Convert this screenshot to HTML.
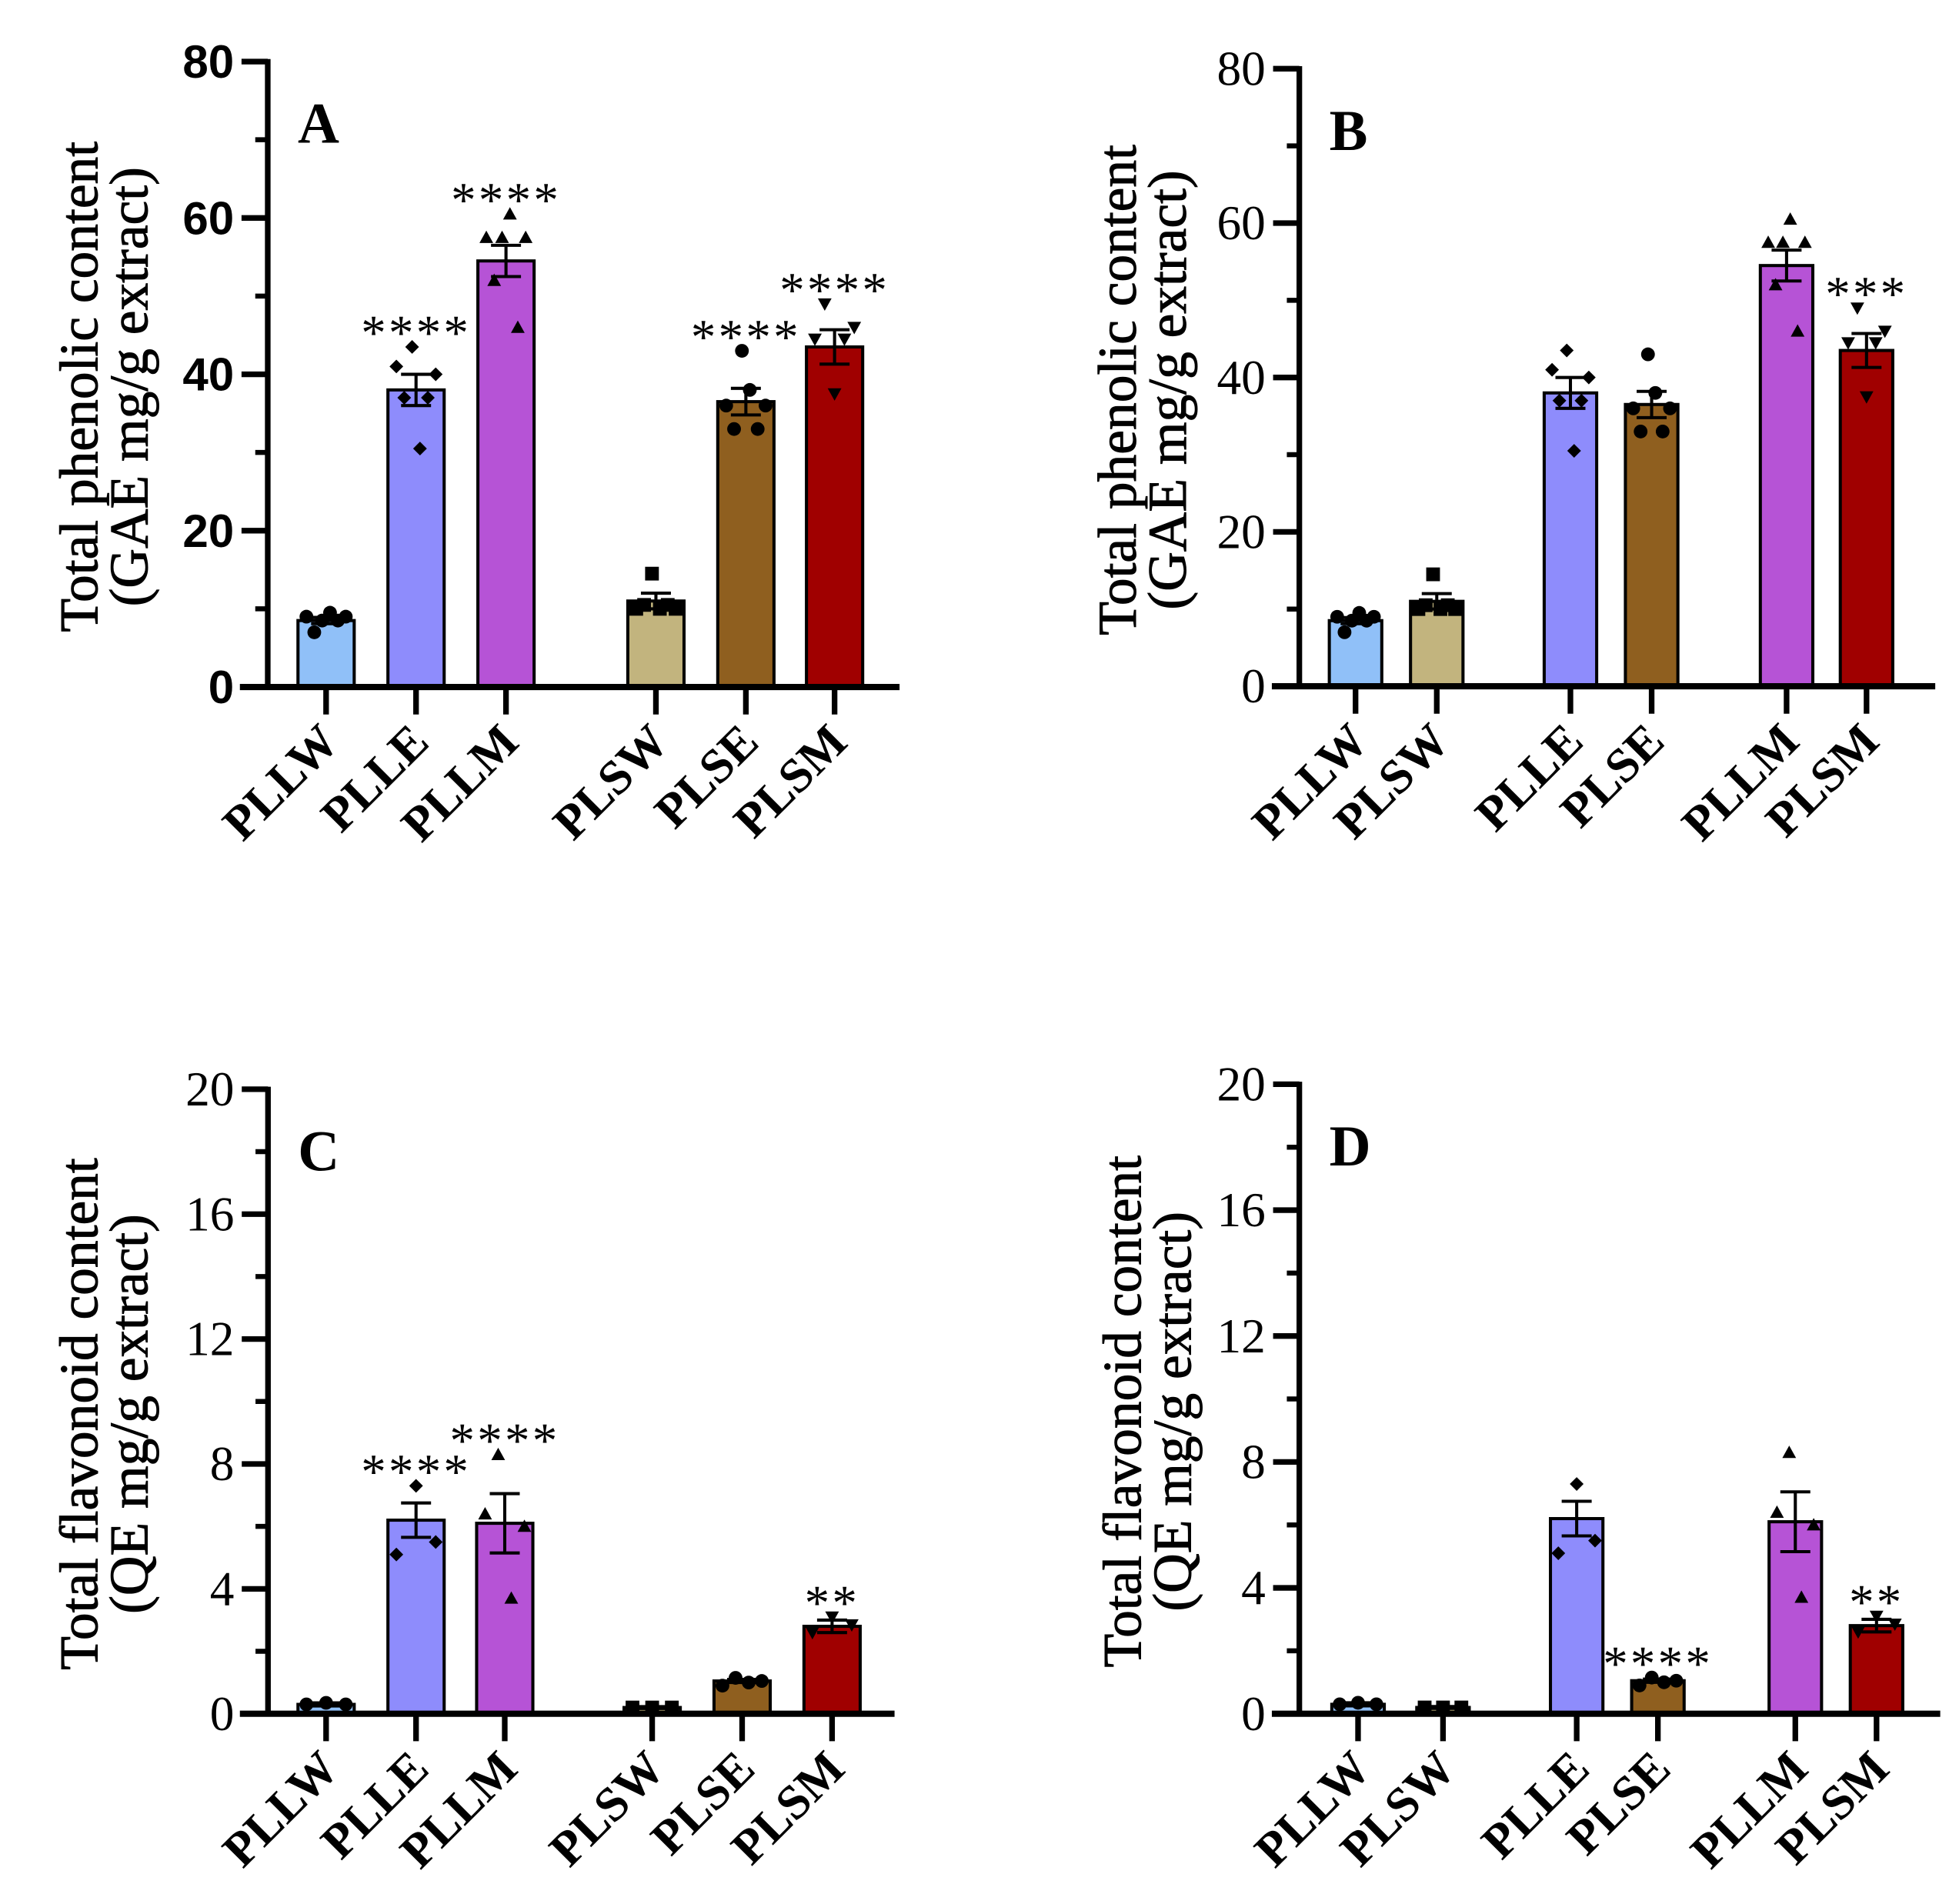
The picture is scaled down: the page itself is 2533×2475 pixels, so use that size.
<!DOCTYPE html>
<html><head><meta charset="utf-8"><style>
html,body{margin:0;padding:0;background:#fff;}
svg{display:block;}
</style></head><body>
<svg id="fig" xmlns="http://www.w3.org/2000/svg" width="2533" height="2475" viewBox="0 0 1560 1524.3">
<rect x="0" y="0" width="1560" height="1524.3" fill="#fff"/>
</svg>
<script>
// ---- data ----
const groupsAC = ["PLLW","PLLE","PLLM","PLSW","PLSE","PLSM"];
const groupsBD = ["PLLW","PLSW","PLLE","PLSE","PLLM","PLSM"];
const colors = {PLLW:"#90c0f8",PLLE:"#8e8cfc",PLLM:"#b653d6",PLSW:"#c2b47e",PLSE:"#8f5f1f",PLSM:"#a00000"};
const markers = {PLLW:"circle",PLLE:"diamond",PLLM:"tri",PLSW:"square",PLSE:"circle",PLSM:"tridown"};
// phenolic (GAE mg/g)
const phenMean = {PLLW:8.5,PLLE:38,PLLM:54.5,PLSW:11,PLSE:36.5,PLSM:43.5};
const phenSem = {PLLW:0.4,PLLE:2,PLLM:2,PLSW:1,PLSE:1.7,PLSM:2.2};
const phenPts = {PLLW:[9,7,8.5,9.5,8.5,9],PLLE:[41,37,43.5,30.5,37,40],PLLM:[57.5,52,57.5,60.5,46,57.5],PLSW:[10,10.5,14.5,10,10.5,10],PLSE:[36,33,43,38,33,36],PLSM:[44.5,49,37.5,44.5,46]};
// flavonoid (QE mg/g)
const flavMean = {PLLW:0.3,PLLE:6.2,PLLM:6.1,PLSW:0.2,PLSE:1.05,PLSM:2.8};
const flavSem = {PLLW:0.05,PLLE:0.55,PLLM:0.95,PLSW:0.03,PLSE:0.05,PLSM:0.2};
const flavPts = {PLLW:[0.3,0.35,0.3],PLLE:[5.1,7.3,5.5],PLLM:[6.4,8.3,3.7,6.0],PLSW:[0.2,0.2,0.2],PLSE:[0.9,1.15,1.0,1.05],PLSM:[2.6,3.1,2.85]};
const starsA = {PLLE:"****",PLLM:"****",PLSE:"****",PLSM:"****"};
const starsB = {PLSM:"***"};
const starsC = {PLLE:"****",PLLM:"****",PLSM:"**"};
const starsD = {PLSE:"****",PLSM:"**"};
const phenTicks = [0,20,40,60,80];
const flavTicks = [0,4,8,12,16,20];

const NS="http://www.w3.org/2000/svg";
const svg=document.getElementById('fig');
function mk(tag,attrs,parent){const e=document.createElementNS(NS,tag);for(const k in attrs)e.setAttribute(k,attrs[k]);(parent||svg).appendChild(e);return e;}

const panels=[
 {id:"a",letter:"A",ax:214.3,top:49.3,zero:550,xs:192,xe:720,bw:45,centers:[261,333,405,525,597,668],groups:groupsAC,mean:phenMean,sem:phenSem,pts:phenPts,ticks:phenTicks,max:80,minor:10,stars:starsA,sans:true,t1:"Total phenolic content",t2:"(GAE mg/g extract)",tx:[64,104]},
 {id:"b",letter:"B",ax:1040,top:55,zero:549.4,xs:1018,xe:1549,bw:42,centers:[1085,1150,1257,1322,1430,1494],groups:groupsBD,mean:phenMean,sem:phenSem,pts:phenPts,ticks:phenTicks,max:80,minor:10,stars:starsB,sans:false,t1:"Total phenolic content",t2:"(GAE mg/g extract)",tx:[895,935]},
 {id:"c",letter:"C",ax:214.5,top:872,zero:1372,xs:192,xe:716,bw:45,centers:[261,333,404,522,594,666],groups:groupsAC,mean:flavMean,sem:flavSem,pts:flavPts,ticks:flavTicks,max:20,minor:2,stars:starsC,sans:false,t1:"Total flavonoid content",t2:"(QE mg/g extract)",tx:[64,104]},
 {id:"d",letter:"D",ax:1040,top:868,zero:1372,xs:1018,xe:1553,bw:42,centers:[1087,1155,1262,1327,1437,1502],groups:groupsBD,mean:flavMean,sem:flavSem,pts:flavPts,ticks:flavTicks,max:20,minor:2,stars:starsD,sans:false,t1:"Total flavonoid content",t2:"(QE mg/g extract)",tx:[899,939]}
];
const serif='"Liberation Serif", serif', sans='"Liberation Sans", sans-serif';

panels.forEach(p=>{
  const g=mk('g',{});
  
  
  const y=v=>p.zero-(v/p.max)*(p.zero-p.top);
  p.groups.forEach((k,i)=>{
    const cx=p.centers[i];
    const r=mk('rect',{x:cx-p.bw/2,y:y(p.mean[k]),width:p.bw,height:p.zero-y(p.mean[k]),fill:colors[k],stroke:"#000","stroke-width":2.5},g);
    
    
    const n=p.pts[k].length;
    p.pts[k].forEach((v,j)=>{
      const px=cx+(n>1?(j/(n-1)-0.5)*p.bw*0.7:0), py=y(v), s=5.5;
      let m;
      if(markers[k]==="circle") m=mk('circle',{cx:px,cy:py,r:s},g);
      else if(markers[k]==="square") m=mk('rect',{x:px-s,y:py-s,width:2*s,height:2*s},g);
      else if(markers[k]==="diamond") m=mk('polygon',{points:`${px},${py-s} ${px+s},${py} ${px},${py+s} ${px-s},${py}`},g);
      else if(markers[k]==="tri") m=mk('polygon',{points:`${px},${py-s} ${px+s},${py+s*0.8} ${px-s},${py+s*0.8}`},g);
      else m=mk('polygon',{points:`${px},${py+s} ${px+s},${py-s*0.8} ${px-s},${py-s*0.8}`},g);
      m.setAttribute('fill','#000');
      
      
    });
    const hi=y(p.mean[k]+p.sem[k]), lo=y(p.mean[k]-p.sem[k]);
    const eb=mk('path',{d:`M${cx},${lo}V${hi}M${cx-12},${hi}H${cx+12}M${cx-12},${lo}H${cx+12}`,stroke:"#000","stroke-width":2.5,fill:"none"},g);
    
    
    mk('line',{x1:cx,x2:cx,y1:p.zero,y2:p.zero+22,stroke:"#000","stroke-width":4.5},g);
    const lx=cx+12, ly=p.zero+46;
    const t=mk('text',{x:lx,y:ly,transform:`rotate(-45 ${lx} ${ly})`,"text-anchor":"end","font-family":serif,"font-weight":"bold","font-size":39},g);
    t.textContent=k;
    
    
    if(p.stars[k]){
      const top=Math.max(...p.pts[k],p.mean[k]+p.sem[k]);
      const st=mk('text',{x:cx,y:y(top)+2,"text-anchor":"middle","font-family":serif,"font-size":40,"letter-spacing":"2"},g);
      st.textContent=p.stars[k];
      
      
    }
  });
  const ya=mk('line',{x1:p.ax,x2:p.ax,y1:p.top-2,y2:p.zero+2,stroke:"#000","stroke-width":4.5},g);
   
  const xa=mk('line',{x1:p.xs,x2:p.xe,y1:p.zero,y2:p.zero,stroke:"#000","stroke-width":5},g);
   
  for(let v=0;v<=p.max+1e-9;v+=p.minor){
    mk('line',{x1:p.ax-10,x2:p.ax,y1:y(v),y2:y(v),stroke:"#000","stroke-width":4},g);
  }
  p.ticks.forEach(v=>{
    mk('line',{x1:p.ax-21,x2:p.ax,y1:y(v),y2:y(v),stroke:"#000","stroke-width":4.5},g);
    const tl=mk('text',{x:p.ax-27,y:y(v)+13,"text-anchor":"end","font-family":p.sans?sans:serif,"font-weight":p.sans?"bold":"normal","font-size":p.sans?37:39},g);
    tl.textContent=v;
    
    
  });
  const L=mk('text',{x:p.ax+24,y:p.top+65,"font-family":serif,"font-weight":"bold","font-size":46},g);
  L.textContent=p.letter;
  
  
  const my=(p.top+p.zero)/2+10;
  [p.t1,p.t2].forEach((s,i)=>{
    const x=p.tx[i]+14;
    const t=mk('text',{x:x,y:my,transform:`rotate(-90 ${x} ${my})`,"text-anchor":"middle","font-family":serif,"font-size":44,"stroke":"#000","stroke-width":0.6},g);
    t.textContent=s;
    
    
  });
});
</script>
</body></html>
